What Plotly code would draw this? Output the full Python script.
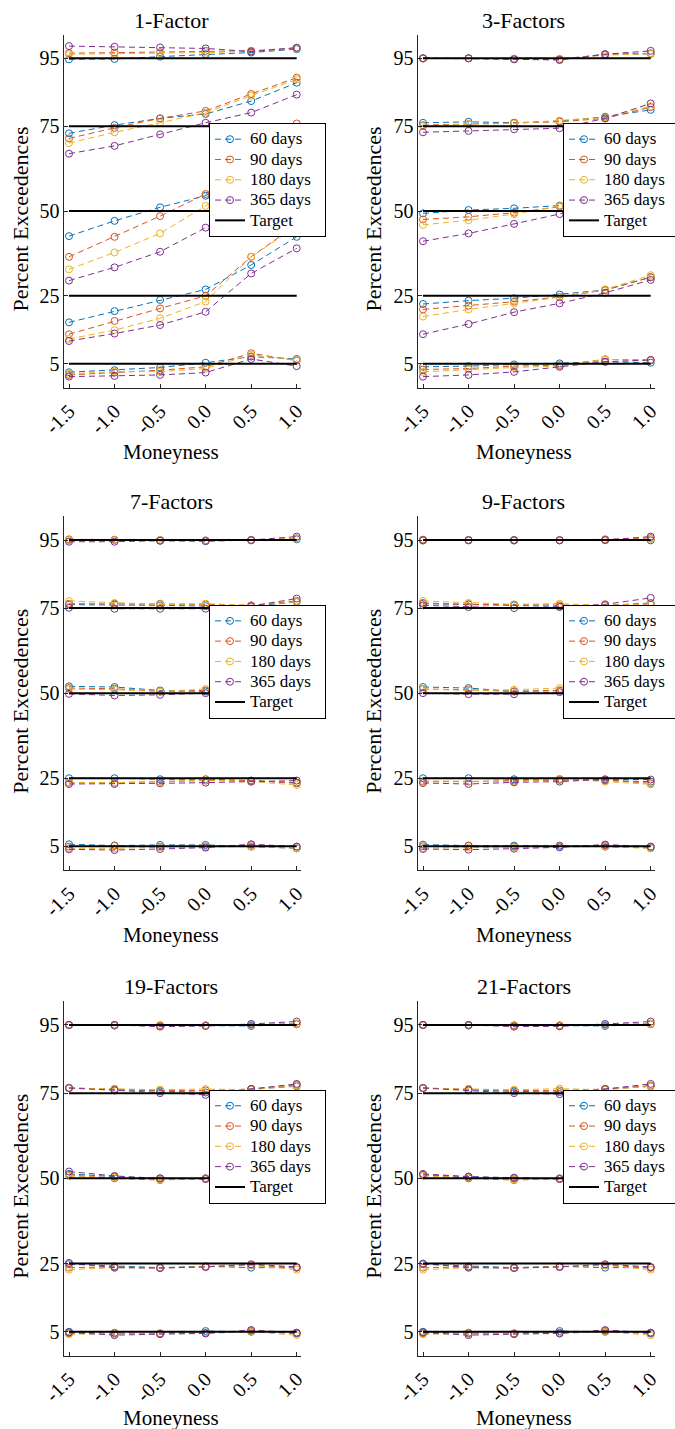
import plotly.graph_objects as go

# ---------------- data ----------------
MONEYNESS = [-1.5, -1.0, -0.5, 0.0, 0.5, 1.0]
MONEYNESS_LABELS = ["-1.5", "-1.0", "-0.5", "0.0", "0.5", "1.0"]
QUANTILES = [5, 25, 50, 75, 95]
MATURITIES = ["60 days", "90 days", "180 days", "365 days"]
PANEL_TITLES = ["1-Factor", "3-Factors", "7-Factors", "9-Factors", "19-Factors", "21-Factors"]

# each array: rows = quantile 5, 25, 50, 75, 95 ; columns = moneyness
F1_60 = [[2.5, 3.1, 3.9, 5.3, 7.1, 6.4], [17.2, 20.5, 23.8, 26.9, 34.1, 42.4], [42.6, 47.1, 51.1, 54.5, 62.0, 70.0], [72.9, 75.3, 77.3, 78.6, 82.4, 87.8], [94.7, 94.8, 95.5, 96.2, 96.7, 97.7]]
F1_90 = [[1.7, 2.4, 3.1, 4.1, 8.1, 5.9], [13.7, 17.6, 21.3, 25.0, 36.5, 46.0], [36.5, 42.4, 48.5, 55.0, 66.0, 75.8], [71.4, 74.5, 77.3, 79.5, 84.5, 89.3], [96.5, 96.7, 96.8, 97.2, 97.2, 98.1]]
F1_180 = [[2.0, 2.7, 2.7, 3.6, 7.6, 6.1], [12.3, 14.9, 18.4, 23.3, 36.5, 45.5], [32.8, 37.8, 43.4, 51.5, 62.0, 72.0], [70.0, 73.2, 76.0, 79.0, 84.0, 88.8], [96.2, 96.3, 96.5, 96.7, 97.1, 97.9]]
F1_365 = [[1.2, 1.4, 1.7, 2.4, 6.4, 4.3], [11.7, 13.9, 16.4, 20.3, 31.6, 39.0], [29.5, 33.4, 38.0, 45.1, 55.0, 65.0], [66.9, 69.2, 72.6, 76.0, 79.0, 84.3], [98.6, 98.4, 98.2, 97.9, 97.0, 98.1]]

F3_60 = [[4.1, 4.3, 4.8, 5.1, 5.6, 5.3], [22.6, 23.6, 24.3, 25.4, 26.7, 30.5], [49.3, 50.3, 50.8, 51.6, 53.0, 55.0], [76.0, 76.3, 76.0, 76.5, 77.8, 79.8], [95.0, 95.0, 94.8, 94.7, 96.2, 96.3]]
F3_90 = [[3.3, 3.6, 4.3, 4.6, 6.3, 6.1], [21.0, 22.1, 23.3, 24.7, 26.7, 30.5], [47.5, 48.3, 49.5, 51.3, 53.0, 55.5], [75.3, 75.6, 76.0, 76.3, 77.3, 80.6], [95.0, 95.0, 94.8, 94.7, 96.1, 96.5]]
F3_180 = [[2.6, 3.3, 3.9, 4.3, 6.3, 5.9], [18.9, 21.0, 22.8, 24.6, 26.9, 31.1], [45.9, 47.3, 49.1, 51.5, 53.0, 56.0], [75.0, 75.6, 75.8, 76.6, 77.6, 80.9], [94.9, 95.0, 94.9, 94.9, 95.9, 96.4]]
F3_365 = [[1.2, 1.7, 2.6, 4.1, 5.6, 6.1], [13.7, 16.7, 20.2, 22.8, 25.9, 29.7], [41.1, 43.4, 46.2, 49.1, 52.0, 55.0], [73.2, 73.6, 74.1, 74.4, 77.3, 81.7], [95.0, 95.0, 94.7, 94.5, 96.2, 97.2]]

F7_60 = [[5.6, 5.2, 5.4, 5.4, 4.9, 4.4], [25.0, 25.0, 24.7, 24.7, 24.3, 23.7], [52.0, 51.8, 50.8, 50.5, 50.5, 50.5], [76.0, 76.0, 75.8, 75.6, 75.5, 76.8], [95.0, 95.0, 94.8, 94.7, 94.9, 95.2]]
F7_90 = [[4.9, 5.2, 4.9, 4.9, 5.4, 4.9], [23.7, 23.7, 24.0, 24.3, 24.3, 23.5], [51.5, 51.3, 50.5, 50.8, 50.5, 50.5], [76.3, 76.3, 76.3, 76.1, 75.8, 77.1], [95.2, 95.1, 95.0, 94.9, 95.0, 95.5]]
F7_180 = [[4.4, 4.4, 4.7, 4.9, 4.9, 4.4], [23.7, 23.7, 24.0, 24.5, 24.0, 23.0], [51.2, 51.0, 50.5, 51.2, 50.5, 50.5], [77.1, 76.5, 76.1, 76.3, 75.8, 76.8], [95.0, 95.0, 95.0, 94.8, 95.0, 95.4]]
F7_365 = [[4.1, 3.9, 4.2, 4.6, 5.6, 4.9], [23.3, 23.3, 23.5, 23.7, 24.0, 24.3], [49.8, 49.3, 49.5, 50.0, 50.5, 50.5], [75.1, 74.8, 74.8, 74.8, 75.6, 77.8], [94.5, 94.5, 94.8, 94.7, 95.0, 96.0]]

F9_60 = [[5.5, 5.2, 5.2, 5.2, 4.9, 4.5], [25.0, 25.0, 24.7, 24.7, 24.3, 24.0], [51.8, 51.5, 50.5, 50.8, 50.5, 50.5], [76.3, 76.1, 75.8, 75.5, 75.8, 76.5], [95.0, 95.0, 95.0, 94.9, 95.0, 94.9]]
F9_90 = [[5.0, 5.2, 4.9, 5.0, 5.3, 4.9], [24.0, 24.0, 24.3, 24.5, 24.5, 23.5], [51.2, 51.0, 50.5, 50.8, 50.5, 50.5], [76.5, 76.1, 76.0, 75.8, 75.8, 76.0], [95.1, 95.0, 95.0, 95.0, 95.2, 95.6]]
F9_180 = [[4.5, 4.6, 4.7, 4.9, 4.9, 4.4], [24.2, 24.0, 24.0, 24.8, 24.0, 23.2], [51.2, 50.8, 51.0, 51.5, 50.5, 50.5], [77.1, 76.5, 76.1, 76.3, 75.8, 76.3], [94.8, 94.9, 94.8, 94.9, 95.0, 95.3]]
F9_365 = [[4.2, 4.0, 4.3, 4.7, 5.5, 4.9], [23.6, 23.3, 23.8, 24.0, 24.7, 24.6], [50.0, 49.7, 49.7, 50.3, 50.5, 50.5], [75.8, 75.3, 75.0, 75.3, 76.1, 78.0], [94.9, 94.9, 94.9, 94.9, 95.0, 96.0]]

F19_60 = [[5.0, 4.5, 4.5, 5.2, 5.0, 4.5], [24.8, 24.2, 23.8, 24.2, 23.8, 23.8], [51.3, 50.5, 50.0, 50.0, 50.0, 50.0], [76.5, 76.0, 75.5, 75.2, 76.2, 77.0], [95.0, 94.8, 94.8, 94.8, 94.7, 95.2]]
F19_90 = [[4.5, 4.7, 4.5, 4.7, 5.3, 4.7], [23.8, 24.0, 23.7, 24.0, 24.5, 23.8], [51.0, 50.0, 49.5, 50.0, 50.0, 50.0], [76.5, 76.2, 75.8, 75.8, 76.2, 77.4], [95.0, 95.0, 94.9, 94.9, 95.1, 95.4]]
F19_180 = [[4.3, 4.3, 4.3, 4.5, 5.0, 4.0], [23.2, 23.8, 23.7, 24.2, 24.5, 23.2], [50.7, 50.3, 49.7, 49.8, 50.0, 50.0], [76.5, 76.3, 76.0, 76.2, 76.0, 77.2], [94.9, 94.9, 94.7, 94.9, 95.1, 95.3]]
F19_365 = [[4.8, 4.0, 4.3, 4.5, 5.5, 4.7], [25.2, 23.8, 23.7, 24.0, 24.8, 24.0], [52.0, 50.7, 50.0, 49.8, 50.0, 50.0], [76.5, 75.8, 75.0, 74.5, 76.2, 77.7], [95.0, 95.0, 94.5, 94.7, 95.3, 96.0]]

F21_60 = [[5.0, 4.5, 4.5, 5.2, 5.0, 4.5], [24.8, 24.2, 23.8, 24.2, 23.8, 23.8], [51.0, 50.5, 50.0, 50.0, 50.0, 50.0], [76.5, 76.0, 75.5, 75.3, 76.2, 77.0], [95.0, 94.8, 94.8, 94.8, 94.7, 95.2]]
F21_90 = [[4.5, 4.7, 4.5, 4.7, 5.3, 4.7], [23.8, 24.0, 23.7, 24.0, 24.5, 23.8], [51.0, 50.0, 49.5, 49.9, 50.0, 50.0], [76.5, 76.2, 75.8, 75.8, 76.2, 77.2], [95.0, 95.0, 94.9, 94.9, 95.1, 95.4]]
F21_180 = [[4.3, 4.3, 4.3, 4.5, 5.0, 4.0], [23.2, 23.8, 23.7, 24.2, 24.5, 23.2], [50.7, 50.3, 49.7, 49.8, 50.0, 50.0], [76.4, 76.3, 76.0, 76.3, 76.0, 77.0], [94.9, 94.9, 94.7, 94.8, 95.1, 95.3]]
F21_365 = [[4.8, 4.0, 4.3, 4.5, 5.5, 4.7], [25.0, 23.8, 23.7, 24.0, 24.8, 24.0], [51.3, 50.5, 50.2, 49.8, 50.0, 50.0], [76.5, 75.8, 75.0, 74.7, 76.2, 77.7], [95.0, 95.0, 94.5, 94.6, 95.3, 96.0]]

PANELS = [
    [F1_60, F1_90, F1_180, F1_365],
    [F3_60, F3_90, F3_180, F3_365],
    [F7_60, F7_90, F7_180, F7_365],
    [F9_60, F9_90, F9_180, F9_365],
    [F19_60, F19_90, F19_180, F19_365],
    [F21_60, F21_90, F21_180, F21_365],
]

# ---------------- styling / layout ----------------
COLORS = ["#0072BD", "#D95319", "#EDB120", "#7E2F8E"]
W, H = 675, 1429
FONT = "Liberation Serif, Times New Roman, Times, serif"

# pixel geometry of the axes boxes
COL_X = [(64.45, 301.25), (418.45, 655.25)]
ROW_Y = [(34.55, 387.5), (516.2, 870.1), (1001.1, 1355.6)]
COL_CENTER = [171.0, 523.5]
YLAB_X = [20.5, 373.5]
LEG_X = [209.0, 563.0]
LEG_TOP_OFF = 88.5
XLAB_OFF = [64.5, 64.5, 62.0]


def px(x):
    return x / W


def py(y):
    return 1 - y / H


def legend_label(text):
    return '<span style="font-size:17px">' + text + '\u00a0\u00a0</span>'


fig = go.Figure()
annotations = []

for p in range(6):
    r, c = divmod(p, 2)
    idx = p + 1
    xa = "x" if idx == 1 else f"x{idx}"
    ya = "y" if idx == 1 else f"y{idx}"
    leg = "legend" if idx == 1 else f"legend{idx}"

    for m, name in enumerate(MATURITIES):
        xs, ys = [], []
        for q in range(len(QUANTILES)):
            xs += MONEYNESS + [None]
            ys += PANELS[p][m][q] + [None]
        fig.add_trace(go.Scatter(
            x=xs, y=ys, mode="lines+markers", name=legend_label(name),
            xaxis=xa, yaxis=ya, legend=leg, connectgaps=False,
            line=dict(color=COLORS[m], width=1, dash="6px,4px"),
            marker=dict(symbol="circle-open", size=7, color=COLORS[m], line=dict(width=1, color=COLORS[m])),
        ))
    tx, ty = [], []
    for qv in QUANTILES:
        tx += [MONEYNESS[0], MONEYNESS[-1], None]
        ty += [qv, qv, None]
    fig.add_trace(go.Scatter(
        x=tx, y=ty, mode="lines", name=legend_label("Target"), xaxis=xa, yaxis=ya, legend=leg,
        line=dict(color="black", width=2), connectgaps=False,
    ))

    x0, x1 = COL_X[c]
    y0, y1 = ROW_Y[r]
    fig.layout[f"xaxis{'' if idx == 1 else idx}"] = dict(
        domain=[px(x0), px(x1)], range=[-1.55, 1.05], anchor=ya,
        tickvals=MONEYNESS, ticktext=MONEYNESS_LABELS, tickangle=-45,
        ticks="inside", ticklen=4, tickcolor="#262626", ticklabelstandoff=3,
        showline=True, linecolor="#262626", linewidth=1,
        showgrid=False, zeroline=False,
        tickfont=dict(family=FONT, size=20, color="black"),
    )
    fig.layout[f"yaxis{'' if idx == 1 else idx}"] = dict(
        domain=[py(y1), py(y0)], range=[-2, 102], anchor=xa,
        tickvals=QUANTILES, ticks="inside", ticklen=4, tickcolor="#262626",
        showline=True, linecolor="#262626", linewidth=1,
        showgrid=False, zeroline=False,
        tickfont=dict(family=FONT, size=20, color="black"),
    )
    fig.layout[leg] = dict(
        x=px(LEG_X[c]), y=py(y0 + LEG_TOP_OFF), xanchor="left", yanchor="top",
        bgcolor="white", bordercolor="black", borderwidth=1,
        font=dict(family=FONT, size=13.3, color="black"),
        tracegroupgap=0, itemwidth=30,
    )

    annotations.append(dict(text=PANEL_TITLES[p], x=px(COL_CENTER[c]), y=py(y0 - 14.5),
                            xref="paper", yref="paper", showarrow=False,
                            xanchor="center", yanchor="middle",
                            font=dict(family=FONT, size=22, color="black")))
    annotations.append(dict(text="Moneyness", x=px(COL_CENTER[c]), y=py(y1 + XLAB_OFF[r]),
                            xref="paper", yref="paper", showarrow=False,
                            xanchor="center", yanchor="middle",
                            font=dict(family=FONT, size=21, color="black")))
    annotations.append(dict(text="Percent Exceedences", x=px(YLAB_X[c]), y=py((y0 + y1) / 2 + 8),
                            xref="paper", yref="paper", showarrow=False, textangle=-90,
                            xanchor="center", yanchor="middle",
                            font=dict(family=FONT, size=22, color="black")))

fig.update_layout(
    width=W, height=H, autosize=False,
    margin=dict(l=0, r=0, t=0, b=0, pad=0, autoexpand=False),
    paper_bgcolor="white", plot_bgcolor="white",
    annotations=annotations,
    showlegend=True,
)

fig.write_html("out.html")
